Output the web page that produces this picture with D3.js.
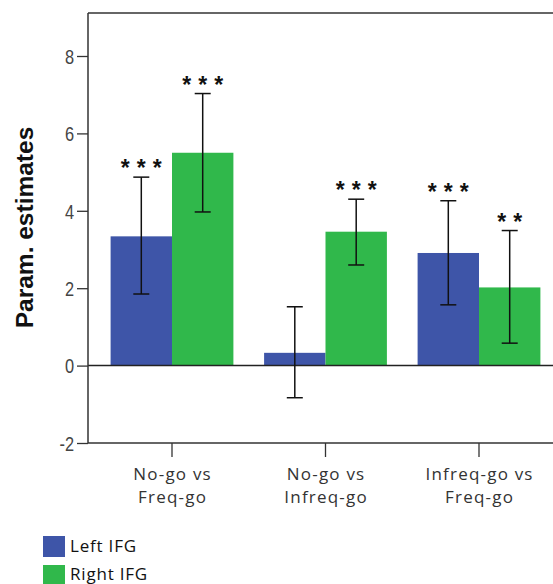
<!DOCTYPE html>
<html><head><meta charset="utf-8">
<script src="https://cdn.jsdelivr.net/npm/d3@7"></script>
<style>body{margin:0;background:#fff}svg{display:block}</style>
</head><body>
<script>
const categories = [["No-go vs","Freq-go"],["No-go vs","Infreq-go"],["Infreq-go vs","Freq-go"]];
const seriesNames = ["Left IFG","Right IFG"];
const seriesColors = ["#3e55a8","#30b84b"];
const leftValues = [3.34, 0.33, 2.91];
const leftLow = [1.85, -0.83, 1.57];
const leftHigh = [4.87, 1.52, 4.26];
const leftStars = ["***", "", "***"];
const rightValues = [5.50, 3.46, 2.02];
const rightLow = [3.97, 2.60, 0.58];
const rightHigh = [7.03, 4.30, 3.49];
const rightStars = ["***", "***", "**"];
const yTicks = [-2, 0, 2, 4, 6, 8];

const W = 553, H = 584;
const svg = d3.select("body").append("svg").attr("width", W).attr("height", H);

const y = d3.scaleLinear().domain([-2, 8]).range([443, 56]);
const catIdx = categories.map((d,i)=>i);
const x0 = d3.scaleBand().domain(catIdx).range([95.25, 555.75]).paddingInner(0.2).paddingOuter(0.1);
const x1 = d3.scaleBand().domain([0,1]).range([0, x0.bandwidth()]);

const series = [
  {vals:leftValues, lo:leftLow, hi:leftHigh, stars:leftStars},
  {vals:rightValues, lo:rightLow, hi:rightHigh, stars:rightStars}
];

const xL = 88, yTop = 13;
series.forEach((s, si) => {
  svg.append("g").selectAll("rect").data(s.vals).join("rect")
    .attr("x", (d,i)=>x0(i)+x1(si))
    .attr("width", x1.bandwidth())
    .attr("y", d=>Math.min(y(d), y(0)))
    .attr("height", d=>Math.abs(y(d)-y(0)))
    .attr("fill", seriesColors[si]);
});

svg.append("line").attr("x1", xL).attr("x2", W).attr("y1", yTop).attr("y2", yTop).attr("stroke","#333").attr("stroke-width",1.5);
svg.append("line").attr("x1", xL).attr("x2", W).attr("y1", y(0)).attr("y2", y(0)).attr("stroke","#222").attr("stroke-width",1.5);

const yAxis = svg.append("g").attr("transform", `translate(${xL},0)`)
  .call(d3.axisLeft(y).tickValues(yTicks).tickSize(11).tickPadding(2).tickFormat(d => String(d)));
yAxis.select(".domain").remove();
svg.append("line").attr("x1", xL).attr("x2", xL).attr("y1", yTop).attr("y2", y(-2)).attr("stroke","#333").attr("stroke-width",1.5);
yAxis.selectAll(".tick line").attr("stroke","#333").attr("stroke-width",1.3);
yAxis.selectAll(".tick text")
  .attr("font-family","Liberation Sans, Arial, sans-serif").attr("font-size",20).attr("fill","#444")
  .attr("x", -14/0.82).attr("dy","0.36em").attr("transform","scale(0.82,1)");

const xAxis = svg.append("g").attr("transform", `translate(0,${y(-2)})`)
  .call(d3.axisBottom(x0).tickSize(14).tickFormat(""));
xAxis.select(".domain").remove();
svg.append("line").attr("x1", xL).attr("x2", W).attr("y1", y(-2)).attr("y2", y(-2)).attr("stroke","#333").attr("stroke-width",1.5);
xAxis.selectAll(".tick line").attr("stroke","#333").attr("stroke-width",1.3);
xAxis.selectAll(".tick").each(function(d){
  const t = d3.select(this).append("text").attr("fill","#333").attr("text-anchor","middle")
    .attr("font-family","Open Sans, sans-serif").attr("font-size",17).attr("letter-spacing",1.2);
  categories[d].forEach((line, li) => t.append("tspan").attr("x",0.6).attr("y", 37 + li*23).text(line));
});

series.forEach((s, si) => {
  const g = svg.append("g").attr("stroke","#111").attr("stroke-width",1.5);
  s.vals.forEach((v,i) => {
    const cx = x0(i)+x1(si)+x1.bandwidth()/2;
    g.append("line").attr("x1",cx).attr("x2",cx).attr("y1",y(s.lo[i])).attr("y2",y(s.hi[i]));
    g.append("line").attr("x1",cx-8).attr("x2",cx+8).attr("y1",y(s.lo[i])).attr("y2",y(s.lo[i]));
    g.append("line").attr("x1",cx-8).attr("x2",cx+8).attr("y1",y(s.hi[i])).attr("y2",y(s.hi[i]));
    const n = s.stars[i].length;
    for (let k = 0; k < n; k++) {
      svg.append("text").attr("x", cx + (k-(n-1)/2)*16).attr("y", y(s.hi[i]) - 1)
        .attr("text-anchor","middle").attr("font-family","Liberation Sans, Arial, sans-serif")
        .attr("font-weight","bold").attr("font-size",23).attr("fill","#111").text("*");
    }
  });
});

svg.append("text").attr("transform","translate(33,227.5) rotate(-90)").attr("text-anchor","middle")
  .attr("font-family","Liberation Sans, Arial, sans-serif").attr("font-weight","bold").attr("font-size",24.5).attr("fill","#111")
  .text("Param. estimates");

seriesNames.forEach((n, i) => {
  svg.append("rect").attr("x",43).attr("y",536 + i*29).attr("width",22).attr("height",21).attr("fill",seriesColors[i]);
  svg.append("text").attr("x",70).attr("y",552 + i*28).attr("font-family","Open Sans, sans-serif").attr("font-size",17).attr("letter-spacing",0.8).attr("fill","#111").text(n);
});
</script>
</body></html>
